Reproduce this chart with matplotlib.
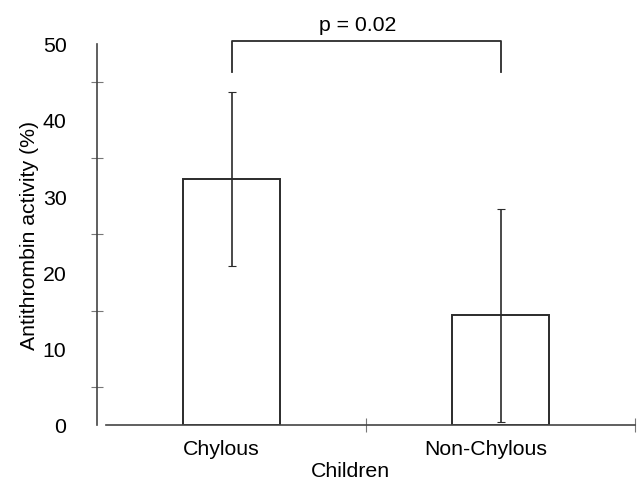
import matplotlib.pyplot as plt
import numpy as np

plt.rcParams['font.family'] = ['Liberation Sans', 'DejaVu Sans']

groups = ["Chylous", "Non-Chylous"]
means = [32.25, 14.4]
errors = [11.4, 13.95]
p_text = "p = 0.02"

line_col = "#2b2b2b"
fs = 15.3

fig = plt.figure(figsize=(6.39, 4.89), dpi=100)
ax = fig.add_axes([97 / 639, 1 - 426 / 489, 538 / 639, (426 - 44.5) / 489])

x = np.arange(len(groups))
ax.bar(x, means, width=0.36, color="white", edgecolor=line_col, linewidth=1.4, zorder=2)
ax.errorbar(x, means, yerr=errors, fmt="none", ecolor=line_col, elinewidth=1.2,
            capsize=3, capthick=0.8, zorder=3)

# significance bracket
top = 50.3
ax.plot([x[0], x[0], x[1], x[1]], [46.3, top, top, 46.3], color=line_col,
        linewidth=1.3, clip_on=False)
ax.text(x.mean() - 0.03, top + 0.9, p_text, ha="center", va="bottom", fontsize=fs)

ax.set_xlim(-0.5, 1.5)
ax.set_ylim(0, 50)

ax.spines["top"].set_visible(False)
ax.spines["right"].set_visible(False)
ax.spines["left"].set_color("#444444")
ax.spines["bottom"].set_color("#444444")
ax.spines["left"].set_linewidth(1.2)
ax.spines["bottom"].set_linewidth(1.2)
ax.spines["bottom"].set_bounds(-0.465, 1.5)

ax.set_yticks(np.arange(0, 51, 10))
ax.set_yticks(np.arange(5, 50, 10), minor=True)
ax.tick_params(axis="y", which="major", length=0, pad=22, labelsize=fs)
ax.tick_params(axis="y", which="minor", direction="inout", length=8, width=0.8, color="#777777")

# category labels sit a little left of the bar centres in the original
ax.set_xticks(x + np.array([-0.037, -0.054]))
ax.set_xticklabels(groups)
ax.set_xticks([0.5, 1.5], minor=True)
ax.tick_params(axis="x", which="major", length=0, pad=10, labelsize=fs)
ax.tick_params(axis="x", which="minor", direction="inout", length=10, width=0.8, color="#777777")

ax.set_ylabel("Antithrombin activity (%)", fontsize=fs, labelpad=3)
ax.set_xlabel("Children", fontsize=fs, labelpad=3)
ax.xaxis.set_label_coords(0.472, -0.095)

fig.savefig("out.png", dpi=100)
